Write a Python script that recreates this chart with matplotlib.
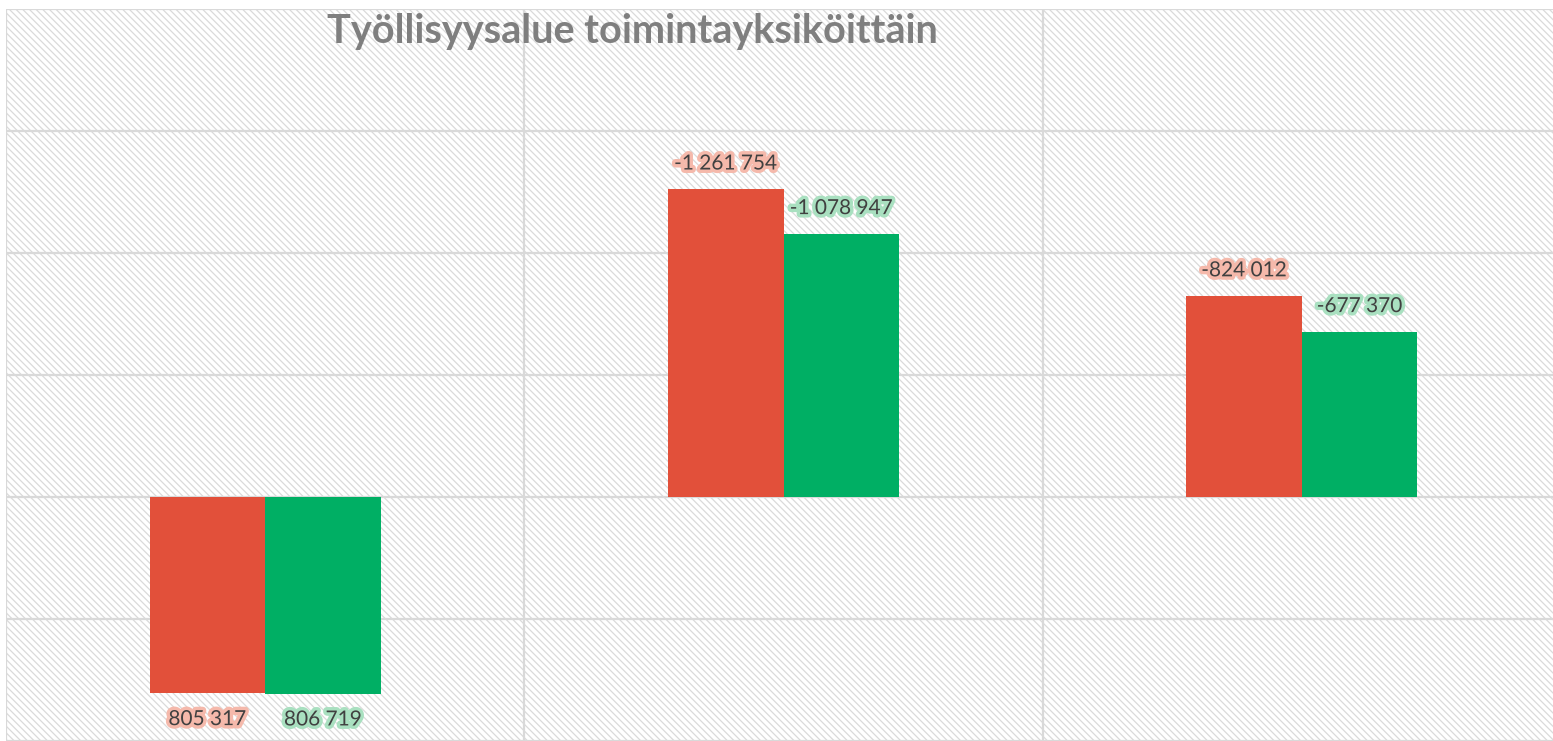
import numpy as np
import matplotlib.pyplot as plt
from matplotlib.patches import Rectangle
import matplotlib.patheffects as pe

categories = ["A", "B", "C"]
series_red = [805317, -1261754, -824012]
series_green = [806719, -1078947, -677370]
labels_red = ["805 317", "-1 261 754", "-824 012"]
labels_green = ["806 719", "-1 078 947", "-677 370"]
title = "Työllisyysalue toimintayksiköittäin"

RED = "#E2503A"
GREEN = "#00AF64"
GRID = "#d9d9d9"

plt.rcParams['font.family'] = ['Lato', 'DejaVu Sans']
plt.rcParams['hatch.linewidth'] = 0.9

fig = plt.figure(figsize=(15.53, 7.41), dpi=100)
ax = fig.add_axes([6 / 1553, 0, 1555 / 1553, 1 - 9 / 741])

# hatched background
ax.add_patch(Rectangle((0, 0), 1, 1, transform=ax.transAxes, facecolor="white",
                       edgecolor="#dadada", hatch="\\" * 5, lw=0, zorder=0))

x = np.arange(len(categories))
w = 0.223
ax.bar(x - w / 2, series_red, w, color=RED, zorder=3)
ax.bar(x + w / 2, series_green, w, color=GREEN, zorder=3)

for yv in np.arange(-2000000, 1000001, 500000):
    ax.axhline(yv, color=GRID, lw=1.6, zorder=1)
for xv in [-0.5, 0.5, 1.5, 2.5]:
    ax.axvline(xv, color=GRID, lw=1.6, zorder=1)

ax.set_xlim(-0.5, 2.5)
ax.set_ylim(1000000, -2000000)
ax.set_xticks([])
ax.set_yticks([])
for s in ax.spines.values():
    s.set_visible(False)

off = 105000
for xi, v, lab in zip(x - w / 2, series_red, labels_red):
    yy = v + off if v > 0 else v - off
    ax.text(xi, yy, lab, ha="center", va="center", fontsize=15, color="#404040", zorder=5,
            path_effects=[pe.withStroke(linewidth=5, foreground="#f5b9ab")])
for xi, v, lab in zip(x + w / 2, series_green, labels_green):
    yy = v + off if v > 0 else v - off
    ax.text(xi, yy, lab, ha="center", va="center", fontsize=15, color="#404040", zorder=5,
            path_effects=[pe.withStroke(linewidth=5, foreground="#a9e0c0")])

fig.text(632 / 1553, 1 - 32 / 741, title, ha="center", va="center", fontsize=28.5,
         fontweight="bold", color="#7f7f7f")

fig.savefig("out.png", dpi=100)
